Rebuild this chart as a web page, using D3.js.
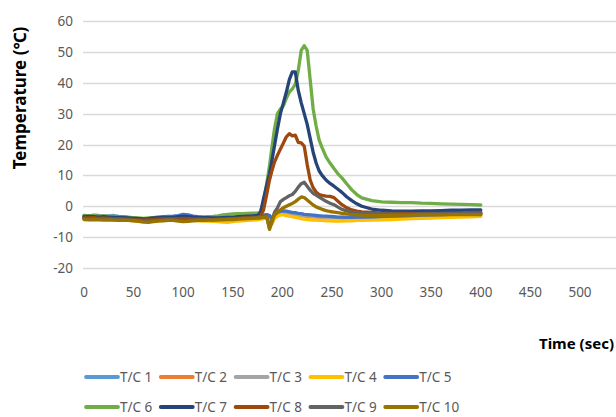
<!DOCTYPE html>
<html>
<head>
<meta charset="utf-8">
<script src="https://cdn.jsdelivr.net/npm/d3@7"></script>
<style>
  body { margin: 0; background: #fff; }
  svg { display: block; }
</style>
</head>
<body>
<div id="chart"></div>
<script>
var times = [0,5,10,15,20,25,30,35,40,45,50,55,60,65,70,75,80,85,90,95,100,105,110,115,120,125,130,135,140,145,150,155,160,165,170,175,
  178,181,184,187,189,192,195,198,201,204,207,210,213,216,219,222,225,228,231,234,237,240,
  244,248,252,256,260,265,270,275,280,
  290,300,310,320,330,340,350,360,370,380,390,400];

var seriesNames = ['T/C 1','T/C 2','T/C 3','T/C 4','T/C 5','T/C 6','T/C 7','T/C 8','T/C 9','T/C 10'];
var seriesColors = ['#5B9BD5','#ED7D31','#A5A5A5','#FFC000','#4472C4','#70AD47','#264478','#9E480E','#636363','#997300'];

var tc1 = [-3.0,-3.1,-2.9,-3.0,-3.2,-3.1,-3.0,-3.3,-3.4,-3.6,-3.8,-4.0,-4.1,-4.0,-3.9,-3.8,-3.8,-3.7,-3.6,-3.5,-3.3,-3.4,-3.6,-3.7,-3.8,-3.8,-3.9,-4.0,-4.1,-4.3,-4.2,-4.0,-3.8,-3.6,-3.4,-3.2,
  -3.2,-3.0,-2.8,-3.0,-4.5,-3.0,-2.2,-1.8,-1.7,-1.8,-2.0,-2.1,-2.3,-2.5,-2.6,-2.7,-2.9,-3.0,-3.1,-3.1,-3.2,-3.3,
  -3.4,-3.5,-3.6,-3.7,-3.8,-3.9,-4.0,-3.9,-3.8,
  -3.7,-3.6,-3.5,-3.4,-3.3,-3.2,-3.1,-3.0,-3.0,-2.9,-2.8,-2.7];
var tc2 = [-3.6,-3.7,-3.6,-3.8,-3.7,-3.8,-3.9,-3.9,-4.0,-4.1,-4.2,-4.3,-4.4,-4.3,-4.2,-4.1,-4.1,-4.0,-4.0,-3.9,-3.9,-4.0,-4.1,-4.1,-4.2,-4.2,-4.3,-4.3,-4.4,-4.4,-4.3,-4.2,-4.1,-4.0,-3.9,-3.8,
  -3.6,-3.5,-3.3,-3.6,-5.5,-3.6,-2.8,-2.3,-2.2,-2.3,-2.5,-2.7,-2.9,-3.0,-3.1,-3.2,-3.3,-3.4,-3.5,-3.5,-3.6,-3.6,
  -3.6,-3.7,-3.7,-3.7,-3.6,-3.6,-3.5,-3.5,-3.4,
  -3.3,-3.2,-3.1,-3.0,-2.9,-2.8,-2.8,-2.7,-2.6,-2.6,-2.5,-2.5];
var tc3 = [-3.5,-3.5,-3.4,-3.6,-3.6,-3.7,-3.7,-3.8,-3.9,-4.0,-4.1,-4.2,-4.3,-4.2,-4.1,-4.0,-3.9,-3.9,-3.8,-3.8,-3.7,-3.8,-3.9,-4.0,-4.1,-4.1,-4.2,-4.2,-4.3,-4.3,-4.2,-4.1,-4.0,-3.9,-3.8,-3.7,
  -3.5,-3.4,-3.2,-3.5,-5.8,-3.5,-2.6,-2.2,-2.0,-2.1,-2.3,-2.5,-2.7,-2.8,-2.9,-3.0,-3.1,-3.2,-3.3,-3.4,-3.5,-3.5,
  -3.6,-3.6,-3.7,-3.7,-3.7,-3.7,-3.6,-3.6,-3.5,
  -3.4,-3.3,-3.2,-3.1,-3.0,-3.0,-2.9,-2.8,-2.8,-2.7,-2.7,-2.6];
var tc4 = [-4.0,-4.1,-4.0,-4.2,-4.1,-4.3,-4.2,-4.4,-4.5,-4.6,-4.7,-4.8,-4.9,-4.8,-4.7,-4.6,-4.6,-4.5,-4.5,-4.4,-4.4,-4.5,-4.6,-4.7,-4.8,-4.8,-4.9,-5.0,-5.1,-5.2,-5.0,-4.8,-4.7,-4.6,-4.5,-4.4,
  -4.2,-4.0,-3.8,-4.2,-6.0,-4.0,-3.2,-2.8,-2.8,-3.0,-3.2,-3.4,-3.6,-3.8,-4.0,-4.2,-4.3,-4.4,-4.5,-4.5,-4.6,-4.6,
  -4.7,-4.7,-4.8,-4.8,-4.8,-4.7,-4.7,-4.6,-4.6,
  -4.5,-4.4,-4.3,-4.2,-4.0,-3.9,-3.8,-3.7,-3.6,-3.5,-3.4,-3.3];
var tc5 = [-3.3,-3.2,-3.3,-3.4,-3.3,-3.4,-3.5,-3.6,-3.5,-3.7,-3.9,-4.1,-4.2,-4.0,-3.7,-3.5,-3.4,-3.3,-3.2,-3.0,-2.6,-2.8,-3.2,-3.4,-3.5,-3.6,-3.7,-3.8,-3.9,-4.0,-3.9,-3.7,-3.5,-3.4,-3.3,-3.2,
  -3.0,-2.9,-2.7,-3.0,-4.0,-2.8,-2.0,-1.6,-1.5,-1.6,-1.8,-2.0,-2.1,-2.3,-2.4,-2.6,-2.7,-2.8,-2.9,-3.0,-3.1,-3.2,
  -3.2,-3.3,-3.4,-3.5,-3.5,-3.6,-3.6,-3.5,-3.5,
  -3.4,-3.3,-3.2,-3.1,-3.0,-2.9,-2.8,-2.7,-2.6,-2.5,-2.4,-2.3];
var tc6 = [-3.0,-3.1,-3.0,-3.2,-3.1,-3.3,-3.3,-3.4,-3.5,-3.6,-3.7,-3.8,-3.9,-3.8,-3.7,-3.6,-3.6,-3.5,-3.5,-3.4,-3.4,-3.5,-3.6,-3.6,-3.5,-3.4,-3.3,-3.1,-2.8,-2.6,-2.5,-2.4,-2.4,-2.3,-2.2,-2.2,
  -1.8,1.5,7.0,13.0,18.0,25.0,30.0,31.5,32.5,35.0,37.0,38.0,39.5,44.0,50.5,52.0,50.5,41.0,31.5,26.0,21.5,19.0,
  16.0,14.0,12.2,10.5,9.2,7.2,5.3,3.8,2.7,
  1.8,1.4,1.3,1.2,1.2,1.0,0.9,0.8,0.7,0.6,0.5,0.4];
var tc7 = [-3.4,-3.3,-3.4,-3.5,-3.4,-3.5,-3.6,-3.6,-3.7,-3.8,-3.9,-4.0,-4.1,-4.0,-3.8,-3.7,-3.6,-3.6,-3.5,-3.4,-3.3,-3.4,-3.5,-3.6,-3.7,-3.7,-3.8,-3.8,-3.7,-3.6,-3.5,-3.4,-3.3,-3.2,-3.1,-3.0,
  -2.0,2.5,6.5,10.5,14.0,19.5,25.0,30.0,33.5,37.0,41.0,43.5,43.5,37.5,33.5,30.0,26.5,22.0,17.5,14.0,11.5,10.0,
  8.5,7.4,6.5,5.5,4.5,3.0,1.8,0.8,0.0,
  -0.9,-1.3,-1.5,-1.6,-1.6,-1.5,-1.5,-1.4,-1.3,-1.3,-1.2,-1.2];
var tc8 = [-3.8,-3.8,-3.7,-3.9,-3.8,-3.9,-4.0,-4.0,-4.1,-4.2,-4.3,-4.4,-4.5,-4.4,-4.3,-4.2,-4.1,-4.1,-4.0,-4.0,-3.9,-4.0,-4.1,-4.1,-4.2,-4.2,-4.3,-4.3,-4.2,-4.1,-4.0,-3.9,-3.8,-3.7,-3.6,-3.5,
  -3.2,-1.2,3.5,8.5,11.0,14.3,16.5,18.5,20.5,22.5,23.5,22.8,23.0,20.7,20.5,19.5,13.5,8.5,6.0,4.6,3.8,3.5,
  3.3,3.2,2.8,1.6,0.5,-0.5,-1.2,-1.6,-1.8,
  -2.0,-2.2,-2.3,-2.3,-2.4,-2.4,-2.3,-2.3,-2.2,-2.2,-2.1,-2.0];
var tc9 = [-4.0,-4.1,-4.0,-4.1,-4.2,-4.2,-4.3,-4.3,-4.3,-4.4,-4.5,-4.6,-4.8,-4.8,-4.7,-4.6,-4.5,-4.4,-4.4,-4.5,-4.6,-4.6,-4.5,-4.4,-4.4,-4.3,-4.3,-4.2,-4.2,-4.1,-4.1,-4.0,-3.9,-3.9,-3.8,-3.7,
  -3.5,-3.3,-3.0,-7.0,-5.0,-2.0,-0.5,1.5,2.2,2.8,3.4,3.8,4.8,6.2,7.3,7.8,6.5,5.2,4.2,3.6,3.0,2.4,
  1.6,1.0,0.5,-0.3,-1.0,-1.5,-1.9,-2.1,-2.3,
  -2.4,-2.5,-2.5,-2.6,-2.6,-2.5,-2.5,-2.4,-2.4,-2.3,-2.3,-2.2];
var tc10 = [-4.3,-4.4,-4.3,-4.4,-4.5,-4.4,-4.5,-4.6,-4.5,-4.6,-4.7,-4.9,-5.1,-5.2,-5.0,-4.8,-4.7,-4.6,-4.6,-4.8,-5.0,-4.9,-4.7,-4.6,-4.6,-4.5,-4.5,-4.4,-4.4,-4.3,-4.3,-4.2,-4.1,-4.0,-3.9,-3.8,
  -3.8,-3.6,-3.3,-7.5,-5.5,-2.8,-1.8,-1.2,-0.5,0.0,0.5,0.9,1.5,2.3,3.0,2.8,2.0,1.2,0.4,-0.2,-0.6,-1.0,
  -1.4,-1.7,-1.9,-2.1,-2.3,-2.5,-2.7,-2.8,-2.9,
  -3.0,-3.0,-3.0,-2.9,-2.9,-2.8,-2.8,-2.8,-2.7,-2.7,-2.7,-2.7];

var seriesValues = [tc1, tc2, tc3, tc4, tc5, tc6, tc7, tc8, tc9, tc10];
var xTicks = [0,50,100,150,200,250,300,350,400,450,500];
var yTicks = [-20,-10,0,10,20,30,40,50,60];

var width = 616;
var height = 417;
var labelColor = '#595959';
var fontFamily = '"Noto Sans", "Open Sans", sans-serif';

var svg = d3.select('#chart')
  .append('svg')
  .attr('width', width)
  .attr('height', height);

var x = d3.scaleLinear().domain([0, 600]).range([84, 84 + 600 * 0.992]);
var y = d3.scaleLinear().domain([-20, 60]).range([268, 21]);

// gridlines
svg.append('g').classed('grid', true)
  .selectAll('line')
  .data(yTicks)
  .enter().append('line')
  .attr('x1', 83)
  .attr('x2', width)
  .attr('y1', function(d) { return Math.round(y(d)) + 0.5; })
  .attr('y2', function(d) { return Math.round(y(d)) + 0.5; })
  .attr('stroke', '#d9d9d9')
  .attr('stroke-width', 1.3);

// y labels
svg.append('g')
  .selectAll('text')
  .data(yTicks)
  .enter().append('text')
  .attr('x', 73)
  .attr('y', function(d) { return y(d) + 5; })
  .attr('text-anchor', 'end')
  .style('font-family', fontFamily)
  .style('font-size', '13.5px')
  .style('fill', labelColor)
  .text(function(d) { return d; });

// x labels
svg.append('g')
  .selectAll('text')
  .data(xTicks)
  .enter().append('text')
  .attr('x', function(d) { return x(d); })
  .attr('y', 297)
  .attr('text-anchor', 'middle')
  .style('font-family', fontFamily)
  .style('font-size', '13.5px')
  .style('fill', labelColor)
  .text(function(d) { return d; });

// lines
var line = d3.line()
  .x(function(d, i) { return x(times[i]); })
  .y(function(d) { return y(d); })
  .curve(d3.curveLinear);

svg.append('g').classed('lines', true)
  .selectAll('path')
  .data(seriesValues)
  .enter().append('path')
  .attr('d', line)
  .attr('fill', 'none')
  .attr('stroke', function(d, i) { return seriesColors[i]; })
  .attr('stroke-width', 3.3)
  .attr('stroke-linejoin', 'round')
  .attr('stroke-linecap', 'round');

// axis titles
svg.append('text')
  .attr('transform', 'translate(26, 98) rotate(-90)')
  .attr('text-anchor', 'middle')
  .style('font-family', fontFamily)
  .style('font-size', '17px')
  .style('font-weight', 'bold')
  .style('fill', '#000')
  .text('Temperature (℃)');

svg.append('text')
  .attr('x', 614)
  .attr('y', 349)
  .attr('text-anchor', 'end')
  .style('font-family', fontFamily)
  .style('font-size', '15px')
  .style('font-weight', 'bold')
  .style('fill', '#000')
  .text('Time (sec)');

// legend
var legend = svg.append('g').classed('legend', true)
  .selectAll('g')
  .data(seriesNames)
  .enter().append('g')
  .attr('transform', function(d, i) {
    return 'translate(' + (86 + (i % 5) * 74.8) + ',' + (i < 5 ? 377 : 407) + ')';
  });

legend.append('line')
  .attr('x1', 0)
  .attr('x2', 32)
  .attr('y1', 0)
  .attr('y2', 0)
  .attr('stroke', function(d, i) { return seriesColors[i]; })
  .attr('stroke-width', 3.8)
  .attr('stroke-linecap', 'round');

legend.append('text')
  .attr('x', 34)
  .attr('y', 5)
  .style('font-family', fontFamily)
  .style('font-size', '13.5px')
  .style('fill', labelColor)
  .text(function(d) { return d; });
</script>
</body>
</html>
